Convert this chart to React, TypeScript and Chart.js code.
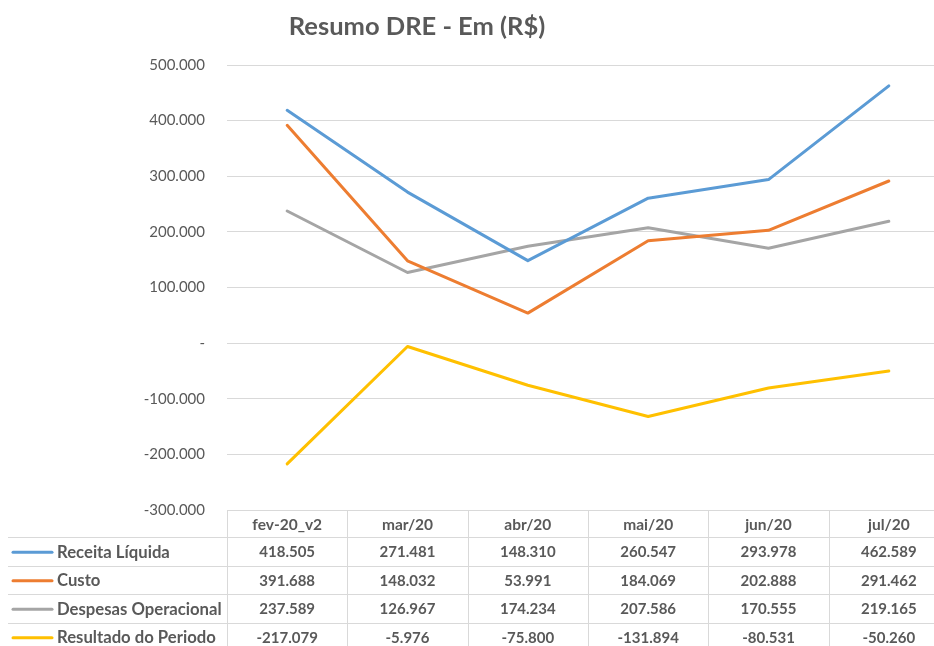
import React, { useEffect, useRef } from "react";
import { Chart, registerables } from "chart.js";

Chart.register(...registerables);

const categories = ["fev-20_v2", "mar/20", "abr/20", "mai/20", "jun/20", "jul/20"];
const receita = [418505, 271481, 148310, 260547, 293978, 462589];
const custo = [391688, 148032, 53991, 184069, 202888, 291462];
const despesas = [237589, 126967, 174234, 207586, 170555, 219165];
const resultado = [-217079, -5976, -75800, -131894, -80531, -50260];
const seriesNames = ["Receita Líquida", "Custo", "Despesas Operacional", "Resultado do Periodo"];
const seriesColors = ["#5B9BD5", "#ED7D31", "#A5A5A5", "#FFC000"];
const yMin = -300000;
const yMax = 500000;
const yStep = 100000;
const titleText = "Resumo DRE - Em (R$)";

const FONT = "Lato, 'Open Sans', sans-serif";
const TEXT = "#595959";

function fmt(v: number): string {
  if (v === 0) return "-";
  const s = Math.round(Math.abs(v)).toString().replace(/\B(?=(\d{3})+(?!\d))/g, ".");
  return (v < 0 ? "-" : "") + s;
}

const tablePlugin = {
  id: "dreTable",
  afterDraw(chart: any) {
    const ctx = chart.ctx;
    const area = chart.chartArea;
    const xs = chart.scales.x;
    const colW = xs.getPixelForValue(1) - xs.getPixelForValue(0);
    const left = area.left;
    const top = area.bottom;
    const headerH = 27;
    const rowH = 28.5;
    const H = chart.height;
    const W = chart.width;
    ctx.save();
    // title
    ctx.fillStyle = TEXT;
    ctx.font = `bold 25.5px ${FONT}`;
    ctx.textAlign = "center";
    ctx.textBaseline = "middle";
    ctx.fillText(titleText, 417, 27);

    ctx.strokeStyle = "#d9d9d9";
    ctx.lineWidth = 1;
    for (let i = 0; i <= categories.length; i++) {
      const x = Math.round(left + i * colW) + 0.5;
      ctx.beginPath();
      ctx.moveTo(x, top);
      ctx.lineTo(x, H);
      ctx.stroke();
    }
    ctx.beginPath();
    ctx.moveTo(left, top + 0.5);
    ctx.lineTo(W, top + 0.5);
    ctx.stroke();
    for (let r = 0; r < seriesNames.length; r++) {
      const y = Math.round(top + headerH + r * rowH) + 0.5;
      ctx.beginPath();
      ctx.moveTo(8, y);
      ctx.lineTo(W, y);
      ctx.stroke();
    }
    ctx.fillStyle = TEXT;
    ctx.font = `bold 15.5px ${FONT}`;
    ctx.textAlign = "center";
    ctx.textBaseline = "middle";
    categories.forEach((c, i) => {
      ctx.fillText(c, xs.getPixelForValue(i), top + headerH / 2 + 1);
    });
    const allData = [receita, custo, despesas, resultado];
    allData.forEach((arr, r) => {
      const cy = top + headerH + r * rowH + rowH / 2 + 1;
      ctx.strokeStyle = seriesColors[r];
      ctx.lineWidth = 3;
      ctx.lineCap = "round";
      ctx.beginPath();
      ctx.moveTo(13, cy);
      ctx.lineTo(52, cy);
      ctx.stroke();
      ctx.fillStyle = TEXT;
      ctx.textAlign = "left";
      ctx.font = `bold 16.7px ${FONT}`;
      ctx.fillText(seriesNames[r], 57, cy);
      ctx.textAlign = "center";
      ctx.font = `bold 15px ${FONT}`;
      arr.forEach((v, i) => {
        ctx.fillText(fmt(v), xs.getPixelForValue(i), cy);
      });
    });
    ctx.restore();
  },
};

export default function App() {
  const ref = useRef<HTMLCanvasElement | null>(null);
  useEffect(() => {
    document.body.style.margin = "0";
    const canvas = ref.current!;
    const allData = [receita, custo, despesas, resultado];
    const chart = new Chart(canvas, {
      type: "line",
      data: {
        labels: categories,
        datasets: allData.map((d, i) => ({
          label: seriesNames[i],
          data: d,
          borderColor: seriesColors[i],
          backgroundColor: seriesColors[i],
          borderWidth: 3,
          pointRadius: 0,
          tension: 0,
          borderJoinStyle: "round" as const,
          borderCapStyle: "round" as const,
        })),
      },
      options: {
        responsive: false,
        animation: false,
        devicePixelRatio: 1,
        layout: { padding: { top: 65, bottom: 136, left: 0, right: 11 } },
        plugins: {
          legend: { display: false },
          title: { display: false },
          tooltip: { enabled: false },
        },
        scales: {
          x: {
            type: "category",
            display: false,
            offset: true,
          },
          y: {
            min: yMin,
            max: yMax,
            ticks: {
              stepSize: yStep,
              padding: 22,
              color: TEXT,
              font: { family: FONT, size: 15 },
              callback: (v: any) => fmt(Number(v)),
            },
            grid: { color: "#d9d9d9", lineWidth: 1, drawTicks: false },
            border: { display: false },
            afterFit: (s: any) => {
              s.width = 227;
            },
          },
        },
      },
      plugins: [tablePlugin],
    } as any);
    return () => chart.destroy();
  }, []);
  return (
    <div style={{ position: "fixed", left: 0, top: 0, width: 934, height: 646, overflow: "hidden", background: "#fff" }}>
      <canvas ref={ref} width={960} height={646} style={{ display: "block" }} />
    </div>
  );
}
